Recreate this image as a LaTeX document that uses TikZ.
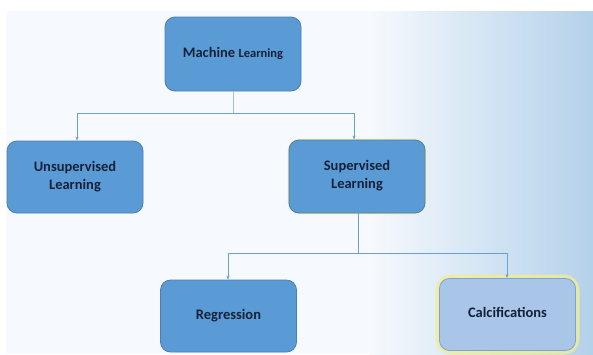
\documentclass[tikz,border=0pt]{standalone}
\usepackage{fontspec}
\setmainfont{Carlito}
\usetikzlibrary{arrows.meta}
\definecolor{boxblue}{HTML}{5B9BD5}
\definecolor{boxedge}{HTML}{4A7EB5}
\definecolor{lightbox}{HTML}{A9C5E8}
\definecolor{lightedge}{HTML}{7FA3CF}
\definecolor{txt}{HTML}{15213A}
\definecolor{conn}{HTML}{6A9FD0}
\definecolor{bgl}{HTML}{F6F9FD}
\definecolor{bgr}{HTML}{B3D1EA}
\definecolor{glow}{HTML}{F1EC95}
\newcommand\boxtext[1]{\raisebox{3.5pt}{\begin{tabular}{@{}c@{}}#1\end{tabular}}}
\begin{document}
\begin{tikzpicture}[x=1pt,y=-1pt,
  box/.style={draw=boxedge,line width=0.8pt,fill=boxblue,rounded corners=10pt,
    minimum width=136pt,minimum height=72pt,text=txt,
    font=\bfseries\fontsize{14.5}{17}\selectfont,inner sep=0pt},
  lbox/.style={box,fill=lightbox,draw=lightedge},
  conn/.style={draw=conn,line width=0.8pt},
  arr/.style={conn,-{Stealth[length=4pt,width=3pt]}}]
\useasboundingbox (0,0) rectangle (593,354);
\fill[white] (0,0) rectangle (593,354);
\fill[bgl] (6,11) rectangle (593,354);
\shade[left color=bgl,right color=bgr] (370,11) rectangle (593,354);
% glows
\draw[glow,line width=7pt,rounded corners=12pt,opacity=0.8] (439,278) rectangle (576,351);
\draw[glow,line width=2.5pt,rounded corners=11pt] (289,140) rectangle (425,213);
% nodes
\node[box,minimum width=136pt,minimum height=74pt] (ml) at (233,54)
  {\boxtext{{\fontsize{14.5}{17}\selectfont Machine} {\fontsize{12.5}{17}\selectfont Learning}}};
\node[box] (un) at (75,177) {\boxtext{Unsupervised\\[1pt]Learning}};
\node[box,minimum height=73pt] (su) at (357,176.5) {\boxtext{Supervised\\[1pt]Learning}};
\node[box] (re) at (228.5,316) {\boxtext{Regression}};
\node[lbox] (ca) at (507.5,314.5) {\boxtext{Calcifications}};
% connectors
\coordinate (j1) at (233,113);
\coordinate (j2) at (358,253);
\draw[conn,draw=conn!60!gray!60] (ml.south) -- (j1);
\draw[arr] (j1) -| (77,0 |- un.north);
\draw[arr] (j1) -| (354,0 |- su.north);
\draw[conn] (su.south -| j2) -- (j2);
\draw[arr] (j2) -| (228,0 |- re.north);
\draw[arr] (j2) -| (507,0 |- ca.north);
\end{tikzpicture}
\end{document}
